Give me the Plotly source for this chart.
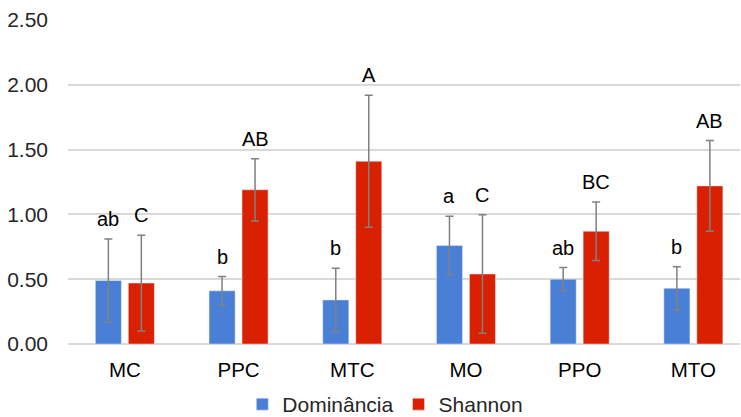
import plotly.graph_objects as go

categories = ["MC", "PPC", "MTC", "MO", "PPO", "MTO"]
dominancia = [0.49, 0.41, 0.34, 0.76, 0.50, 0.43]
dominancia_err = [0.32, 0.11, 0.245, 0.225, 0.09, 0.167]
shannon = [0.47, 1.19, 1.41, 0.54, 0.87, 1.22]
shannon_err = [0.37, 0.24, 0.51, 0.457, 0.225, 0.35]
dom_letters = ["ab", "b", "b", "a", "ab", "b"]
sha_letters = ["C", "AB", "A", "C", "BC", "AB"]
y_ticks = [0, 0.5, 1.0, 1.5, 2.0, 2.5]

BLUE = "#4a7fd6"
RED = "#d92000"
ERR = "#808080"
FONT = "Liberation Sans, Arial, sans-serif"

fig = go.Figure()
fig.add_trace(go.Bar(
    name="Dominância", x=categories, y=dominancia, marker_color=BLUE,
    error_y=dict(type="data", array=dominancia_err, color=ERR, thickness=1.5, width=4),
    offsetgroup="d",
))
fig.add_trace(go.Bar(
    name="Shannon", x=categories, y=shannon, marker_color=RED,
    error_y=dict(type="data", array=shannon_err, color=ERR, thickness=1.5, width=4),
    offsetgroup="s",
))

annotations = []
for i, c in enumerate(categories):
    for vals, errs, letters, xs in ((dominancia, dominancia_err, dom_letters, -0.145),
                                    (shannon, shannon_err, sha_letters, 0.145)):
        annotations.append(dict(
            x=i + xs, y=vals[i] + errs[i], xref="x", yref="y",
            text=letters[i], showarrow=False, yanchor="bottom", yshift=7,
            font=dict(family=FONT, size=20, color="#000000"),
        ))

fig.update_layout(
    width=741, height=417,
    margin=dict(l=68, r=1, t=20, b=73, autoexpand=False),
    plot_bgcolor="white", paper_bgcolor="white",
    barmode="group", bargap=0.42, bargroupgap=0.21,
    font=dict(family=FONT, size=20, color="#404040"),
    showlegend=True,
    legend=dict(orientation="h", x=0.52, xanchor="center", xref="container",
                y=0.03, yanchor="middle", yref="container",
                font=dict(family=FONT, size=21, color="#262626"),
                itemwidth=30, traceorder="normal"),
    annotations=annotations,
)
fig.update_xaxes(
    range=[-0.5, 5.41],
    tickfont=dict(family=FONT, size=20.5, color="#000000"),
    showgrid=False, showline=False, ticks="", ticklabelstandoff=11,
    automargin=False,
)
fig.update_yaxes(
    range=[0, 2.5], tickvals=y_ticks, ticktext=[f"{v:.2f}" for v in y_ticks],
    showgrid=True, gridcolor="#d9d9d9", gridwidth=1.5,
    zeroline=True, zerolinecolor="#d9d9d9", zerolinewidth=1.5,
    ticks="", ticklabelstandoff=19, automargin=False,
    tickfont=dict(family=FONT, size=21, color="#262626"),
)

fig.write_html(
    "out.html",
    config={"displayModeBar": False},
    post_script="document.body.style.margin='0';document.body.style.overflow='hidden';",
)
